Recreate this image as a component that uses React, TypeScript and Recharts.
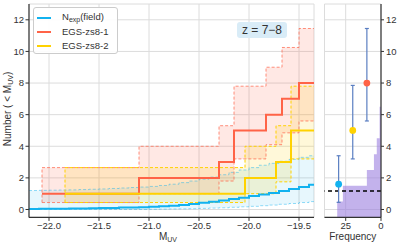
import React from "react";
import {
  ComposedChart,
  Line,
  Area,
  XAxis,
  YAxis,
  CartesianGrid,
  Scatter,
  ErrorBar,
  ReferenceLine,
  Legend,
} from "recharts";

// ---------- data ----------
// EGS-zs8-1 (cumulative counts, step starts)
const RED_M = [-22.07, -21.1, -20.3, -20.15, -19.83, -19.67, -19.5];
const RED_N = [1, 2, 3, 5, 6, 7, 8];
const RED_LO = [0.44, 1.0, 1.8, 3.2, 4.1, 4.85, 5.6];
const RED_HI = [2.65, 4.0, 5.3, 7.8, 9.0, 10.25, 11.45];

// EGS-zs8-2
const YEL_M = [-21.84, -20.04, -19.73, -19.58];
const YEL_N = [1, 2, 3, 5];
const YEL_LO = [0.44, 1.0, 1.75, 3.2];
const YEL_HI = [2.65, 4.0, 5.3, 7.8];

// N_exp (field)
const FIELD_M = [
  -22.2, -22.1, -22.0, -21.9, -21.8, -21.7, -21.6, -21.5, -21.4, -21.3, -21.2,
  -21.1, -21.0, -20.9, -20.8, -20.7, -20.6, -20.5, -20.4, -20.3, -20.2, -20.1,
  -20.0, -19.9, -19.8, -19.7, -19.6, -19.5, -19.4,
];
const FIELD_N = [
  0.03, 0.04, 0.04, 0.05, 0.06, 0.07, 0.08, 0.09, 0.1, 0.12, 0.13, 0.15, 0.17,
  0.2, 0.24, 0.29, 0.35, 0.42, 0.49, 0.57, 0.66, 0.75, 0.85, 0.95, 1.05, 1.17,
  1.3, 1.43, 1.57,
];
const FIELD_LO = [
  0, 0, 0, 0, 0, 0, 0, 0, 0, 0, 0, 0, 0.01, 0.02, 0.03, 0.04, 0.05, 0.07, 0.09,
  0.11, 0.14, 0.17, 0.2, 0.24, 0.28, 0.33, 0.38, 0.44, 0.5,
];
const FIELD_HI = [
  1.2, 1.21, 1.22, 1.23, 1.24, 1.26, 1.28, 1.3, 1.33, 1.36, 1.39, 1.42, 1.46,
  1.52, 1.6, 1.7, 1.8, 1.92, 2.05, 2.2, 2.35, 2.5, 2.65, 2.8, 2.92, 3.05, 3.17,
  3.3, 3.4,
];

const M_MIN = -22.2;
const M_MAX = -19.35;
const N_MIN = -0.5;
const N_MAX = 13;
const X_TICKS = [-22, -21.5, -21, -20.5, -20, -19.5];
const Y_TICKS = [0, 2, 4, 6, 8, 10, 12];

// side panel: histogram of counts
const HIST_N = [0, 1, 2, 3, 4, 5, 6];
const HIST_F = [31, 27, 10, 5, 3, 1, 1];
const F_MAX = 40;
const F_TICKS = [0, 25];

// side panel: observed points
const PT_NAMES = ["field", "zs8-2", "zs8-1"];
const PT_F = [30, 20, 10];
const PT_N = [1.6, 5, 8];
const PT_LO = [0.45, 3.2, 5.6];
const PT_HI = [3.4, 7.85, 11.45];
const FIELD_LEVEL = 1.17;

// ---------- style ----------
const BLUE = "#12b2ef";
const RED = "#ff6347";
const YEL = "#ffd200";
const FONT = "'Liberation Sans', Arial, sans-serif";
const TXT = "#333";
const GRID = "#dcdcdc";
const AX = "#333";

// ---------- derived tables ----------
function stepRows(ms: number[], ns: number[], lo: number[], hi: number[], end: number) {
  const rows = ms.map((m, i) => ({ m, n: ns[i], lo: lo[i], hi: hi[i], band: [lo[i], hi[i]] }));
  const last = rows[rows.length - 1];
  rows.push({ ...last, m: end });
  return rows;
}
const redRows = stepRows(RED_M, RED_N, RED_LO, RED_HI, M_MAX);
const yelRows = stepRows(YEL_M, YEL_N, YEL_LO, YEL_HI, M_MAX);
const fieldRows = stepRows(FIELD_M, FIELD_N, FIELD_LO, FIELD_HI, M_MAX);
const redEdge = [
  { m: RED_M[0], v: RED_LO[0] },
  { m: RED_M[0], v: RED_HI[0] },
];
const yelEdge = [
  { m: YEL_M[0], v: YEL_LO[0] },
  { m: YEL_M[0], v: YEL_HI[0] },
];

const histRows: { n: number; f: number }[] = [];
HIST_N.forEach((n, i) => {
  histRows.push({ n: n - 0.5, f: HIST_F[i] });
  histRows.push({ n: n + 0.5, f: HIST_F[i] });
});

const PT_COLORS = [BLUE, YEL, RED];
const points = PT_NAMES.map((name, i) => ({
  name,
  f: PT_F[i],
  n: PT_N[i],
  err: [PT_N[i] - PT_LO[i], PT_HI[i] - PT_N[i]],
  color: PT_COLORS[i],
}));

const fmtM = (v: number) => v.toFixed(1).replace("-", "\u2212");

const tickStyle = { fontSize: 9.5, fill: TXT, fontFamily: FONT };

const LegendBox = () => {
  const items = [
    { color: BLUE, label: <span>N<sub style={{ fontSize: 7, verticalAlign: -2 }}>exp</sub>(field)</span> },
    { color: RED, label: <span>EGS-zs8-1</span> },
    { color: YEL, label: <span>EGS-zs8-2</span> },
  ];
  return (
    <div
      style={{
        width: 85,
        height: 47,
        boxSizing: "border-box",
        background: "rgba(255,255,255,0.9)",
        border: "1px solid #cccccc",
        borderRadius: 3,
        padding: "3px 0 0 3px",
        fontFamily: FONT,
        fontSize: 9.5,
        color: TXT,
      }}
    >
      {items.map((it, i) => (
        <div key={i} style={{ display: "flex", alignItems: "center", height: 14, lineHeight: "14px" }}>
          <div style={{ width: 14, height: 2, background: it.color, marginRight: 11 }} />
          {it.label}
        </div>
      ))}
    </div>
  );
};

const YLabel = () => (
  <text
    transform="translate(11,109) rotate(-90)"
    textAnchor="middle"
    fontSize={10}
    fill={TXT}
    fontFamily={FONT}
  >
    Number ( &lt; M
    <tspan dy={2} fontSize={7}>UV</tspan>
    <tspan dy={-2}>)</tspan>
  </text>
);

const XLabel = () => (
  <text x={168} y={239.5} textAnchor="middle" fontSize={10} fill={TXT} fontFamily={FONT}>
    M<tspan dy={2} fontSize={7}>UV</tspan>
  </text>
);

const FLabel = () => (
  <text x={42.75} y={239.5} textAnchor="middle" fontSize={10} fill={TXT} fontFamily={FONT}>
    Frequency
  </text>
);

export default function App() {
  return (
    <div style={{ position: "fixed", left: 0, top: 0, width: 399, height: 244, background: "#fff" }}>
      <div style={{ position: "absolute", left: 0, top: 0 }}>
        <ComposedChart width={320} height={244} margin={{ top: 4, right: 6, bottom: 0, left: 0 }}>
          <CartesianGrid stroke={GRID} strokeWidth={1} />
          <XAxis
            type="number"
            dataKey="m"
            domain={[M_MIN, M_MAX]}
            ticks={X_TICKS}
            tickFormatter={fmtM}
            height={26.6}
            tick={tickStyle}
            tickSize={3.5}
            tickMargin={1.5}
            axisLine={{ stroke: AX, strokeWidth: 1.2 }}
            tickLine={{ stroke: AX }}
            allowDataOverflow
            label={<XLabel />}
          />
          <XAxis
            xAxisId="t"
            orientation="top"
            type="number"
            domain={[M_MIN, M_MAX]}
            ticks={X_TICKS}
            height={0}
            tick={false}
            tickSize={-3.5}
            axisLine={{ stroke: AX, strokeWidth: 1.2 }}
            tickLine={{ stroke: AX }}
            allowDataOverflow
          />
          <YAxis
            type="number"
            domain={[N_MIN, N_MAX]}
            ticks={Y_TICKS}
            width={29}
            tick={tickStyle}
            tickSize={3.5}
            tickMargin={1.5}
            axisLine={{ stroke: AX, strokeWidth: 1.2 }}
            tickLine={{ stroke: AX }}
            allowDataOverflow
            label={<YLabel />}
          />
          <YAxis
            yAxisId="r"
            orientation="right"
            type="number"
            domain={[N_MIN, N_MAX]}
            ticks={Y_TICKS}
            width={0}
            tick={false}
            tickSize={-3.5}
            axisLine={{ stroke: AX, strokeWidth: 1.2 }}
            tickLine={{ stroke: AX }}
            allowDataOverflow
          />

          {/* fills */}
          <Area data={fieldRows} dataKey="band" type="stepAfter" fill={BLUE} fillOpacity={0.1} stroke="none" isAnimationActive={false} />
          <Area data={redRows} dataKey="band" type="stepAfter" fill={RED} fillOpacity={0.15} stroke="none" isAnimationActive={false} />
          <Area data={yelRows} dataKey="band" type="stepAfter" fill={YEL} fillOpacity={0.15} stroke="none" isAnimationActive={false} />

          {/* dashed bounds */}
          <Line data={fieldRows} dataKey="lo" type="stepAfter" stroke={BLUE} strokeOpacity={0.45} strokeWidth={1} strokeDasharray="3 2" dot={false} isAnimationActive={false} />
          <Line data={fieldRows} dataKey="hi" type="stepAfter" stroke={BLUE} strokeOpacity={0.45} strokeWidth={1} strokeDasharray="3 2" dot={false} isAnimationActive={false} />
          <Line data={redRows} dataKey="lo" type="stepAfter" stroke={RED} strokeOpacity={0.7} strokeWidth={1} strokeDasharray="3 2" dot={false} isAnimationActive={false} />
          <Line data={redRows} dataKey="hi" type="stepAfter" stroke={RED} strokeOpacity={0.7} strokeWidth={1} strokeDasharray="3 2" dot={false} isAnimationActive={false} />
          <Line data={redEdge} dataKey="v" type="linear" stroke={RED} strokeOpacity={0.7} strokeWidth={1} strokeDasharray="3 2" dot={false} isAnimationActive={false} />
          <Line data={yelRows} dataKey="lo" type="stepAfter" stroke={YEL} strokeWidth={1} strokeDasharray="3 2" dot={false} isAnimationActive={false} />
          <Line data={yelRows} dataKey="hi" type="stepAfter" stroke={YEL} strokeWidth={1} strokeDasharray="3 2" dot={false} isAnimationActive={false} />
          <Line data={yelEdge} dataKey="v" type="linear" stroke={YEL} strokeWidth={1} strokeDasharray="3 2" dot={false} isAnimationActive={false} />

          {/* central steps */}
          <Line data={fieldRows} dataKey="n" type="stepAfter" stroke={BLUE} strokeWidth={2} dot={false} isAnimationActive={false} />
          <Line data={redRows} dataKey="n" type="stepAfter" stroke={RED} strokeWidth={2} dot={false} isAnimationActive={false} />
          <Line data={yelRows} dataKey="n" type="stepAfter" stroke={YEL} strokeWidth={2} dot={false} isAnimationActive={false} />

          <Legend
            layout="vertical"
            align="center"
            verticalAlign="middle"
            wrapperStyle={{ position: "absolute", left: 33, top: 7, width: 85, height: 47 }}
            content={() => <LegendBox />}
          />
        </ComposedChart>
      </div>

      <div
        style={{
          position: "absolute",
          left: 237,
          top: 22,
          width: 50,
          height: 16,
          background: "#d9ecf7",
          borderRadius: 3,
          fontFamily: FONT,
          fontSize: 12,
          color: TXT,
          textAlign: "center",
          lineHeight: "16px",
        }}
      >
        z = 7{"\u2212"}8
      </div>

      <div style={{ position: "absolute", left: 310, top: 0 }}>
        <ComposedChart layout="vertical" width={89} height={244} margin={{ top: 4, right: 0, bottom: 0, left: 14.5 }}>
          <CartesianGrid stroke={GRID} strokeWidth={1} />
          <XAxis
            type="number"
            dataKey="f"
            domain={[0, F_MAX]}
            reversed
            ticks={F_TICKS}
            height={26.6}
            tick={tickStyle}
            tickSize={3.5}
            tickMargin={1.5}
            axisLine={{ stroke: AX, strokeWidth: 1.2 }}
            tickLine={{ stroke: AX }}
            allowDataOverflow
            label={<FLabel />}
          />
          <XAxis
            xAxisId="t"
            orientation="top"
            type="number"
            domain={[0, F_MAX]}
            reversed
            ticks={F_TICKS}
            height={0}
            tick={false}
            tickSize={-3.5}
            axisLine={{ stroke: AX, strokeWidth: 1.2 }}
            tickLine={{ stroke: AX }}
            allowDataOverflow
          />
          <YAxis
            type="number"
            dataKey="n"
            orientation="right"
            domain={[N_MIN, N_MAX]}
            reversed
            ticks={Y_TICKS}
            width={18}
            tick={{ ...tickStyle, textAnchor: "start" }}
            tickSize={3}
            tickMargin={2}
            axisLine={{ stroke: AX, strokeWidth: 1.2 }}
            tickLine={{ stroke: AX }}
            allowDataOverflow
          />
          <YAxis
            yAxisId="l"
            orientation="left"
            type="number"
            domain={[N_MIN, N_MAX]}
            reversed
            ticks={Y_TICKS}
            width={0}
            tick={false}
            tickSize={-3}
            axisLine={{ stroke: AX, strokeWidth: 1.2 }}
            tickLine={{ stroke: AX }}
            allowDataOverflow
          />
          <Area data={histRows} dataKey="f" type="linear" fill="#9b7fe0" fillOpacity={0.6} stroke="none" isAnimationActive={false} />
          <ReferenceLine y={FIELD_LEVEL} stroke="#000" strokeWidth={1.5} strokeDasharray="4 3" />
          {points.map((p) => (
            <Scatter
              key={p.name}
              data={[p]}
              fill={p.color}
              isAnimationActive={false}
              shape={(props: any) => <circle cx={props.cx} cy={props.cy} r={3.4} fill={p.color} />}
            >
              <ErrorBar dataKey="err" direction="y" width={2} stroke="#5b7fc2" strokeWidth={1.2} />
            </Scatter>
          ))}
        </ComposedChart>
      </div>
    </div>
  );
}
